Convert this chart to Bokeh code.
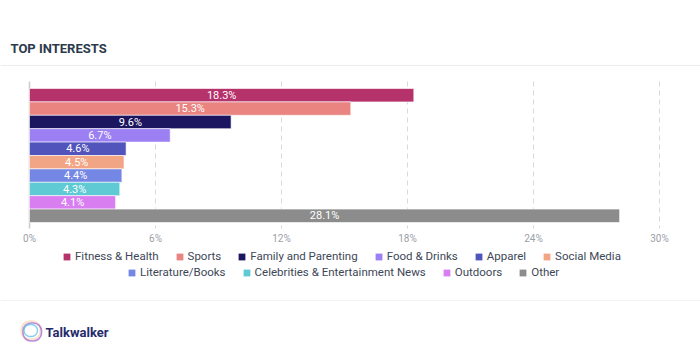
from bokeh.plotting import figure
from bokeh.models import (Range1d, Span, Legend, LegendItem, ColumnDataSource, Label,
                          BoxAnnotation)
from bokeh.embed import file_html
from bokeh.resources import INLINE
from bokeh.core.properties import value

# ---------------- data ----------------
categories = ["Fitness & Health", "Sports", "Family and Parenting", "Food & Drinks",
              "Apparel", "Social Media", "Literature/Books",
              "Celebrities & Entertainment News", "Outdoors", "Other"]
shares = [18.3, 15.3, 9.6, 6.7, 4.6, 4.5, 4.4, 4.3, 4.1, 28.1]
colors = ["#b5326b", "#e98480", "#1c1660", "#9b7ff3", "#5154bb",
          "#f2a584", "#7587e5", "#5fcad4", "#d97ef1", "#8c8c8c"]
x_ticks = [0, 6, 12, 18, 24, 30]
tick_labels = ["0%", "6%", "12%", "18%", "24%", "30%"]
title_text = "TOP INTERESTS"
brand_text = "Talkwalker"

# ---------------- layout constants (pixels) ----------------
FONT = "Roboto"
W, H = 700, 363
X0_PX, PX_PER_UNIT = 29, 21.0          # where 0 % sits, pixels per percent
PLOT_TOP, PLOT_BOTTOM = 81, 228        # extent of the value grid
BARS_TOP, ROW_H = 88, 13.4
TICK_Y = 238

p = figure(width=W, height=H,
           x_range=Range1d(-X0_PX / PX_PER_UNIT, (W - X0_PX) / PX_PER_UNIT),
           y_range=Range1d(H, 0),
           x_axis_type=None, y_axis_type=None, toolbar_location=None,
           output_backend="svg", min_border=0, outline_line_color=None)
p.xgrid.visible = False
p.ygrid.visible = False

# ---- grid (dashed) and value axis ----
grid_x = [t for t in x_ticks if t != 0]
p.segment(x0=grid_x, y0=[PLOT_TOP] * len(grid_x), x1=grid_x, y1=[PLOT_BOTTOM] * len(grid_x),
          line_color="#d9d9d9", line_width=1, line_dash="5 4")
p.segment(x0=[0], y0=[PLOT_TOP], x1=[0], y1=[PLOT_BOTTOM], line_color="#cbcbcb", line_width=1.5)
p.text(x=x_ticks, y=[TICK_Y] * len(x_ticks), text=tick_labels, text_align="center",
       text_baseline="middle", text_color="#9aa0a8", text_font=value(FONT),
       text_font_size="10px")

# ---- bars ----
ys = [BARS_TOP + ROW_H * (i + 0.5) for i in range(len(categories))]
src = ColumnDataSource(dict(
    y=ys, right=shares, color=colors, cat=categories,
    mid=[v / 2 for v in shares], lab=["%.1f%%" % v for v in shares]))
p.hbar(y="y", left=0, right="right", height=ROW_H, source=src, fill_color="color",
       line_color="white", line_alpha=0.6, line_width=1)
p.text(x="mid", y="y", text="lab", source=src, text_align="center", text_baseline="middle",
       text_color="white", text_font=value(FONT), text_font_size="11px")

# ---- legend (two centred rows) ----
leg_r = p.scatter(x="right", y="y", source=src, size=0, marker="square",
                  fill_color="color", line_alpha=0)
items1 = [LegendItem(label=categories[i], renderers=[leg_r], index=i) for i in range(6)]
items2 = [LegendItem(label=categories[i], renderers=[leg_r], index=i) for i in range(6, 10)]
GL = 17
for items, (lx, lyc) in ((items1, (58, 256)), (items2, (123, 272))):
    lg = Legend(items=items, orientation="horizontal", location=(lx, H - lyc - GL / 2),
                glyph_width=GL, glyph_height=GL, label_height=16, label_standoff=-1,
                spacing=12, padding=0, margin=0, border_line_alpha=0,
                background_fill_alpha=0, label_text_font=FONT,
                label_text_font_size="11.5px", label_text_color="#3d4757",
                click_policy="none")
    p.add_layout(lg)

# ---- header ----
p.add_layout(Label(x=10, y=H - 48, x_units="screen", y_units="screen", text=title_text,
                   text_font=FONT, text_font_style="bold", text_font_size="13px",
                   text_color="#2c3a4b", text_baseline="middle"))
p.add_layout(Span(location=65, dimension="width", line_color="#ececec", line_width=1))

# ---- footer ----
p.add_layout(Span(location=300, dimension="width", line_color="#f3f3f3", line_width=1))
p.add_layout(BoxAnnotation(left=21, right=40, top=H - 321, bottom=H - 339,
                           left_units="screen", right_units="screen",
                           top_units="screen", bottom_units="screen",
                           border_radius=8, fill_color="white", fill_alpha=1,
                           line_color="#f4a35c", line_width=2.4))
p.add_layout(BoxAnnotation(left=22.5, right=41, top=H - 322.5, bottom=H - 340.5,
                           left_units="screen", right_units="screen",
                           top_units="screen", bottom_units="screen",
                           border_radius=8, fill_alpha=0,
                           line_color="#a06ad8", line_width=1.6, line_alpha=0.75))
p.add_layout(BoxAnnotation(left=23.5, right=37, top=H - 324, bottom=H - 336,
                           left_units="screen", right_units="screen",
                           top_units="screen", bottom_units="screen",
                           border_radius=6, fill_alpha=0,
                           line_color="#5fc6e6", line_width=1.4, line_alpha=0.8))
p.add_layout(Label(x=45, y=H - 331.5, x_units="screen", y_units="screen", text=brand_text,
                   text_font=FONT, text_font_style="bold", text_font_size="13px",
                   text_color="#272b6b", text_baseline="middle"))

open("out.html", "w").write(file_html(p, INLINE))
